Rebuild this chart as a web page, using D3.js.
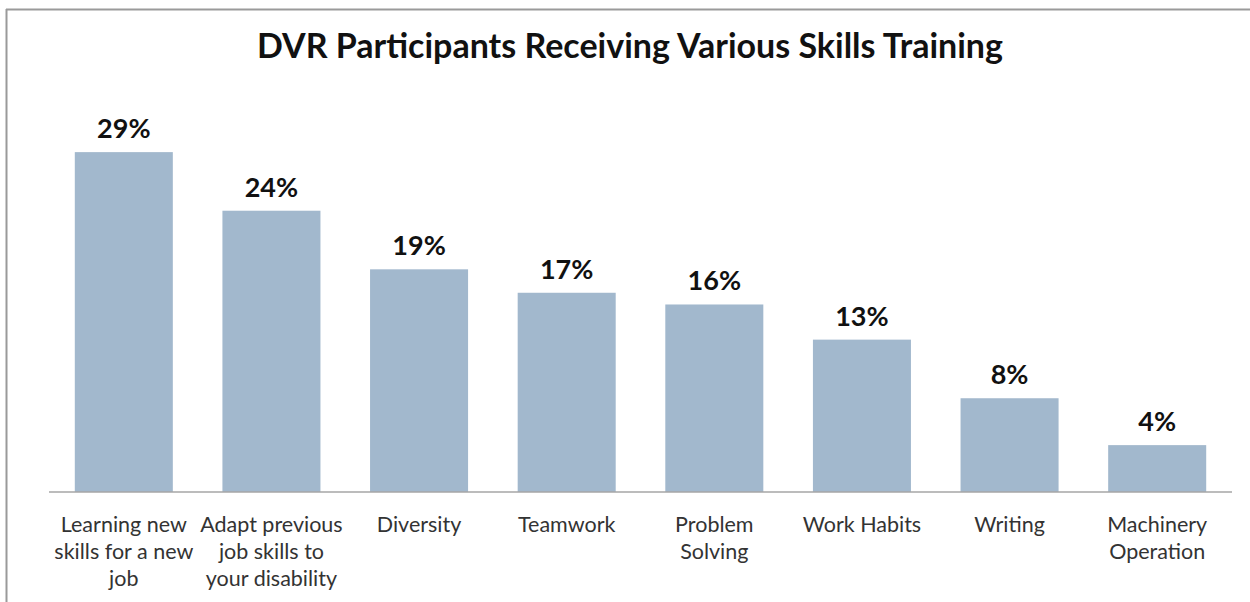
<!DOCTYPE html>
<html>
<head>
<meta charset="utf-8">
<script src="https://cdn.jsdelivr.net/npm/d3@7"></script>
<style>
  html, body { margin: 0; padding: 0; background: #fff; }
  svg { display: block; }
</style>
</head>
<body>
<svg id="chart" width="1250" height="602"></svg>
<script>
// Share of DVR participants receiving each kind of skills training (%)
const categories = [
  ["Learning new", "skills for a new", "job"],
  ["Adapt previous", "job skills to", "your disability"],
  ["Diversity"],
  ["Teamwork"],
  ["Problem", "Solving"],
  ["Work Habits"],
  ["Writing"],
  ["Machinery", "Operation"]
];
const values = [29, 24, 19, 17, 16, 13, 8, 4];
const valueLabels = ["29%", "24%", "19%", "17%", "16%", "13%", "8%", "4%"];
const title = "DVR Participants Receiving Various Skills Training";

const svg = d3.select("#chart");
const W = 1250, H = 602;
const baseY = 492;
const font = "Lato, 'Open Sans', sans-serif";

// frame lines (top and left edges)
svg.append("line").attr("x1", 6).attr("x2", W).attr("y1", 9.5).attr("y2", 9.5)
  .attr("stroke", "#9a9a9a").attr("stroke-width", 2);
svg.append("line").attr("x1", 6.5).attr("x2", 6.5).attr("y1", 9).attr("y2", H)
  .attr("stroke", "#9a9a9a").attr("stroke-width", 2);

svg.append("text")
  .attr("x", 630).attr("y", 58)
  .attr("text-anchor", "middle")
  .attr("font-family", font)
  .attr("font-weight", "bold")
  .attr("font-size", 34)
  .attr("fill", "#111")
  .text(title);

const idx = d3.range(values.length);
const x = d3.scaleBand().domain(idx).range([50, 1231]).paddingInner(0.336).paddingOuter(0.168);
const y = d3.scaleLinear().domain([0, 30]).range([baseY, baseY - 30 * 11.72]);

svg.append("g").selectAll("rect").data(idx).join("rect")
  .attr("x", i => x(i))
  .attr("y", i => y(values[i]))
  .attr("width", x.bandwidth())
  .attr("height", i => y(0) - y(values[i]))
  .attr("fill", "#a2b8cd");

// baseline axis
const axis = d3.axisBottom(x).tickSize(0).tickFormat("");
const gAxis = svg.append("g").attr("transform", `translate(0,${baseY})`).call(axis);
gAxis.select(".domain").attr("stroke", "#a6a6a6").attr("stroke-width", 1.5)
  .attr("d", "M49,0H1232");

// value labels
svg.append("g").selectAll("text").data(idx).join("text")
  .attr("x", i => x(i) + x.bandwidth() / 2)
  .attr("y", i => y(values[i]) - 14)
  .attr("text-anchor", "middle")
  .attr("font-family", font)
  .attr("font-weight", "bold")
  .attr("font-size", 27)
  .attr("fill", "#111")
  .text(i => valueLabels[i]);

// category labels
const cat = svg.append("g").selectAll("text").data(idx).join("text")
  .attr("x", i => x(i) + x.bandwidth() / 2)
  .attr("y", 532)
  .attr("text-anchor", "middle")
  .attr("font-family", font)
  .attr("font-size", 21.5)
  .attr("fill", "#333");
cat.each(function(i) {
  const t = d3.select(this);
  categories[i].forEach((line, k) => {
    t.append("tspan").attr("x", x(i) + x.bandwidth() / 2).attr("y", 532 + k * 27).text(line);
  });
});
</script>
</body>
</html>
